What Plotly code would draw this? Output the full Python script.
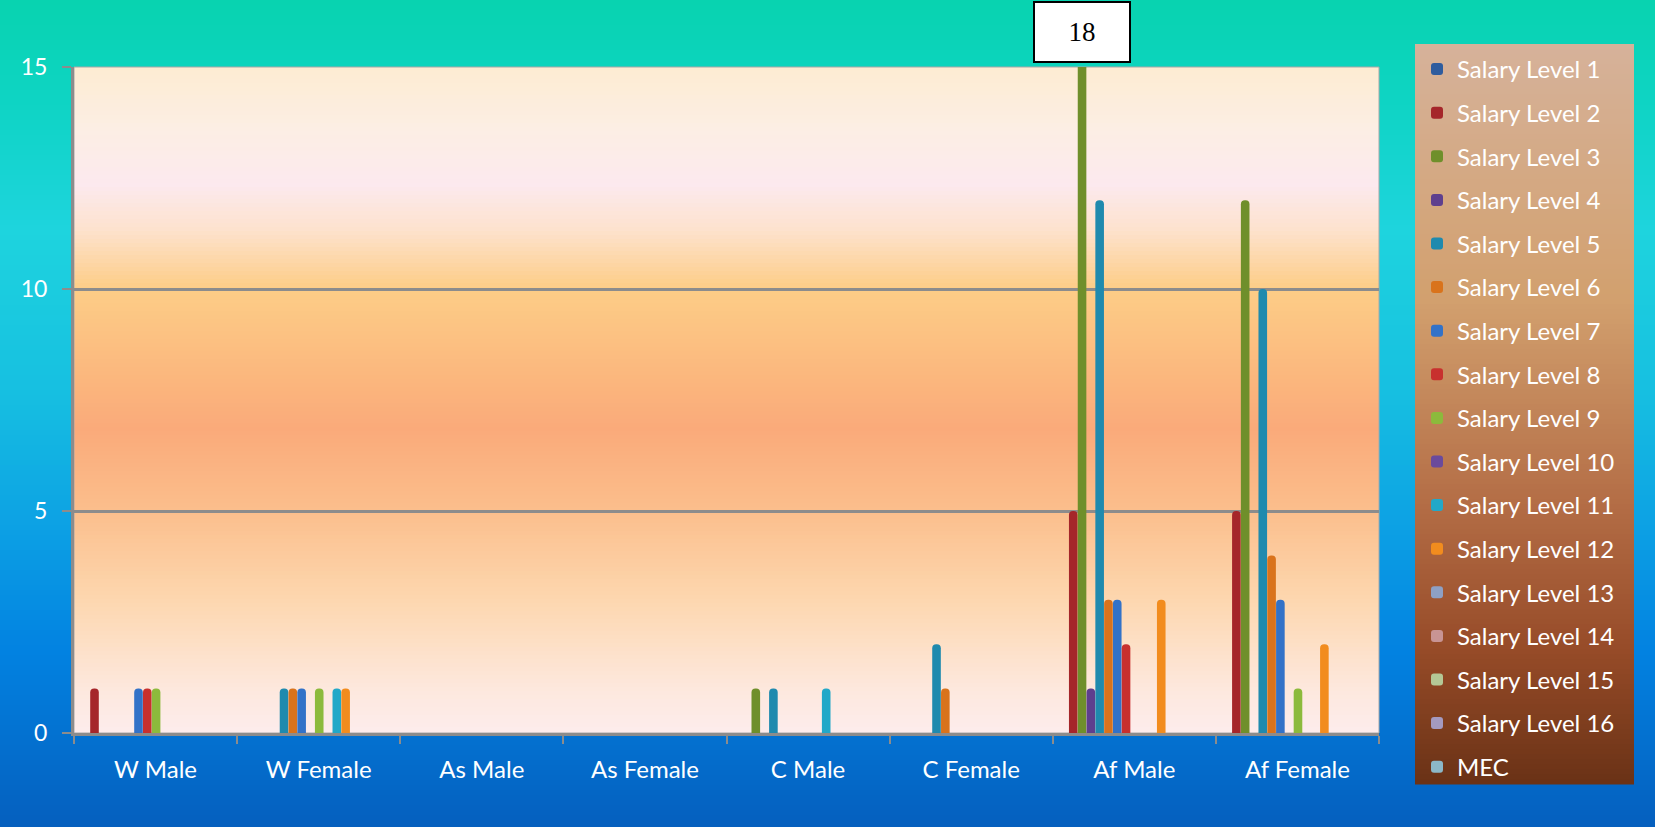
import plotly.graph_objects as go

# ---------------- data ----------------
categories = ["W Male", "W Female", "As Male", "As Female", "C Male", "C Female", "Af Male", "Af Female"]
series_names = ["Salary Level %d" % i for i in range(1, 17)] + ["MEC"]

sl1 = [0, 0, 0, 0, 0, 0, 0, 0]
sl2 = [1, 0, 0, 0, 0, 0, 5, 5]
sl3 = [0, 0, 0, 0, 1, 0, 18, 12]
sl4 = [0, 0, 0, 0, 0, 0, 1, 0]
sl5 = [0, 1, 0, 0, 1, 2, 12, 10]
sl6 = [0, 1, 0, 0, 0, 1, 3, 4]
sl7 = [1, 1, 0, 0, 0, 0, 3, 3]
sl8 = [1, 0, 0, 0, 0, 0, 2, 0]
sl9 = [1, 1, 0, 0, 0, 0, 0, 1]
sl10 = [0, 0, 0, 0, 0, 0, 0, 0]
sl11 = [0, 1, 0, 0, 1, 0, 0, 0]
sl12 = [0, 1, 0, 0, 0, 0, 3, 2]
sl13 = [0, 0, 0, 0, 0, 0, 0, 0]
sl14 = [0, 0, 0, 0, 0, 0, 0, 0]
sl15 = [0, 0, 0, 0, 0, 0, 0, 0]
sl16 = [0, 0, 0, 0, 0, 0, 0, 0]
mec = [0, 0, 0, 0, 0, 0, 0, 0]
series_values = [sl1, sl2, sl3, sl4, sl5, sl6, sl7, sl8, sl9, sl10,
                 sl11, sl12, sl13, sl14, sl15, sl16, mec]

y_ticks = [0, 5, 10, 15]
y_max = 15

colors = ["#2E5C9E", "#A5262A", "#6F8F2B", "#5E3F8E", "#1F8AAE", "#D9731C",
          "#3272C8", "#C8302E", "#8CBA3C", "#6A4A9C", "#22A8C8", "#F28C1E",
          "#8EA0C4", "#C89494", "#B4C896", "#A49AC0", "#8CB8C8"]

# ---------------- geometry helpers (styling only) ----------------
W, H = 1655, 827
L, R, T, B = 74, 1379, 67, 733
PW, PH = R - L, B - T


def px_x(p):
    return (p - L) / PW


def px_y(p):
    return (B - p) / PH


def lerp_stops(stops, y):
    for (y0, c0), (y1, c1) in zip(stops[:-1], stops[1:]):
        if y0 <= y <= y1:
            t = (y - y0) / (y1 - y0) if y1 > y0 else 0
            return tuple(int(round(a + (b - a) * t)) for a, b in zip(c0, c1))
    return stops[-1][1] if y > stops[-1][0] else stops[0][1]


def gradient_shapes(x0, x1, y0, y1, stops, step):
    shapes = []
    y = y0
    while y < y1:
        yb = min(y + step, y1)
        c = lerp_stops(stops, (y + yb) / 2)
        shapes.append(dict(type="rect", xref="paper", yref="paper",
                           x0=px_x(x0), x1=px_x(x1), y0=px_y(yb + 0.6), y1=px_y(y),
                           fillcolor="rgb(%d,%d,%d)" % c, line=dict(width=0),
                           layer="below"))
        y = yb
    return shapes


page_stops = [(0, (8, 211, 176)), (100, (14, 212, 195)), (230, (30, 212, 222)),
              (400, (22, 190, 225)), (530, (12, 160, 228)), (650, (2, 130, 225)),
              (827, (5, 95, 190))]
plot_stops = [(67, (253, 236, 210)), (130, (252, 238, 228)), (185, (252, 233, 238)),
              (230, (253, 226, 205)), (288, (253, 205, 135)), (380, (251, 182, 125)),
              (430, (250, 170, 122)), (510, (251, 190, 140)), (600, (253, 215, 175)),
              (690, (253, 232, 222)), (733, (253, 236, 236))]
legend_stops = [(44, (214, 178, 154)), (300, (210, 160, 110)), (500, (180, 110, 70)),
                (650, (150, 75, 40)), (784, (106, 50, 22))]

shapes = []
shapes += gradient_shapes(-10, W + 10, -10, H + 10, page_stops, 5)
shapes += gradient_shapes(L, R, T, B, plot_stops, 4)
shapes += gradient_shapes(1415, 1634, 44, 784, legend_stops, 5)
shapes.append(dict(type="rect", xref="paper", yref="paper", x0=0, x1=1, y0=0, y1=1,
                   line=dict(color="#A8A8A8", width=1), layer="below"))

# ---------------- bars ----------------
group_px = PW / len(categories)
bar_px = 8.8
start_px = 7.4
fig = go.Figure()
for i, (name, vals, col) in enumerate(zip(series_names, series_values, colors)):
    fig.add_trace(go.Bar(
        x=categories, y=vals, name=name,
        marker=dict(color=col, line=dict(width=0), cornerradius=4),
        width=(bar_px - 0.2) / group_px,
        offset=-0.5 + (start_px + i * bar_px) / group_px,
        legendgroup=name,
        hoverinfo="x+y+name",
    ))

# label for the clipped bar
clip_idx = 2
clip_cat = 6
fig.add_annotation(
    x=clip_cat - 0.5 + (start_px + clip_idx * bar_px + bar_px / 2) / group_px,
    xref="x", y=px_y(1), yref="paper", yanchor="top",
    text=str(series_values[clip_idx][clip_cat]), showarrow=False,
    font=dict(family="Liberation Serif", size=27, color="black"),
    bgcolor="white", bordercolor="black", borderwidth=2,
    width=92, height=56, align="center", valign="middle",
)

fig.update_layout(
    width=W, height=H,
    margin=dict(l=L, r=W - R, t=T, b=H - B),
    paper_bgcolor="rgba(0,0,0,0)",
    plot_bgcolor="rgba(0,0,0,0)",
    barmode="overlay",
    shapes=shapes,
    showlegend=True,
    legend=dict(
        x=px_x(1417), y=px_y(47), xanchor="left", yanchor="top",
        bgcolor="rgba(0,0,0,0)", borderwidth=0,
        font=dict(family="Lato", size=24, color="white"),
        tracegroupgap=9.4, traceorder="grouped", itemwidth=30,
        maxheight=800,
    ),
    font=dict(family="Lato", color="white"),
)

fig.update_xaxes(
    type="category", range=[-0.5, len(categories) - 0.5],
    showline=True, linecolor="#8C8C8C", linewidth=3,
    ticks="outside", tickson="boundaries", ticklen=8, tickcolor="#8C8C8C", tickwidth=2,
    tickfont=dict(family="Lato", size=24, color="white"),
    ticklabelstandoff=13,
    showgrid=False,
)
fig.update_yaxes(
    range=[0, y_max], tickvals=y_ticks,
    showline=True, linecolor="#8C8C8C", linewidth=3,
    ticks="outside", ticklen=9, tickcolor="#8C8C8C", tickwidth=2,
    tickfont=dict(family="Lato", size=23, color="white"),
    ticklabelstandoff=10,
    showgrid=True, gridcolor="#8C8C8C", gridwidth=2.5,
    zeroline=False,
)

fig.write_html("out.html",
               config=dict(displayModeBar=False),
               post_script="document.body.style.margin='0';document.body.style.overflow='hidden';")
